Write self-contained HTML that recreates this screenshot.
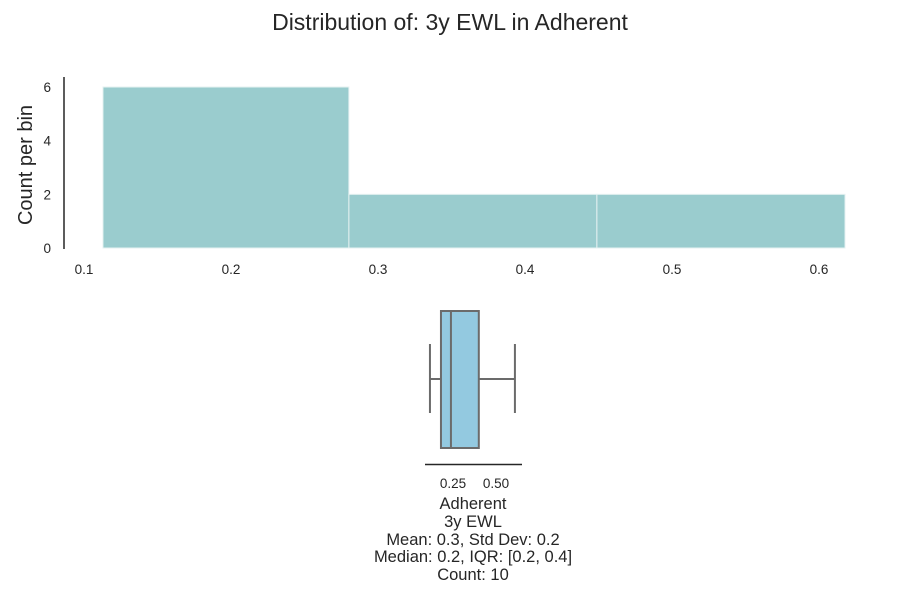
<!DOCTYPE html>
<html><head><meta charset="utf-8"><style>
body{margin:0;background:#fff;}
svg text{font-family:"Liberation Sans",sans-serif;fill:#262626;}
</style></head><body>
<svg id="c" width="900" height="600" xmlns="http://www.w3.org/2000/svg">
<text x="450" y="30" text-anchor="middle" font-size="23">Distribution of: 3y EWL in Adherent</text>
<g id="hist"></g>
<g id="box"></g>
<text x="473" y="509" text-anchor="middle" font-size="16.5">Adherent</text>
<text x="473" y="527" text-anchor="middle" font-size="16.5">3y EWL</text>
<text x="473" y="545" text-anchor="middle" font-size="16.5">Mean: 0.3, Std Dev: 0.2</text>
<text x="473" y="562" text-anchor="middle" font-size="16.5">Median: 0.2, IQR: [0.2, 0.4]</text>
<text x="473" y="580" text-anchor="middle" font-size="16.5">Count: 10</text>
</svg>
<script>
const binEdges=[0.1129,0.2802,0.4489,0.6177];
const binCounts=[6,2,2];
const xTicks=[0.1,0.2,0.3,0.4,0.5,0.6];
const yTicks=[0,2,4,6];
const boxStats=[0.116,0.18,0.238,0.40,0.61]; // whiskerLo,q1,median,q3,whiskerHi
const boxTicks=[0.25,0.50];
const NS="http://www.w3.org/2000/svg";
function mk(t,a,p){const e=document.createElementNS(NS,t);for(const k in a)e.setAttribute(k,a[k]);p.appendChild(e);return e;}
const hx=v=>84+(v-0.1)*1470, hy=v=>248-v*26.83;
const H=document.getElementById('hist');
binCounts.forEach((c,i)=>{const r=mk('rect',{x:hx(binEdges[i]),y:hy(c),width:hx(binEdges[i+1])-hx(binEdges[i]),height:hy(0)-hy(c),fill:'#9accce',stroke:'#e6f2f2','stroke-width':1},H);

});
xTicks.forEach(t=>{const e=mk('text',{x:hx(t),y:274,'text-anchor':'middle','font-size':13.5},H);e.textContent=String(t);

});
yTicks.forEach(t=>{const e=mk('text',{x:51,y:hy(t)+5,'text-anchor':'end','font-size':13.5},H);e.textContent=String(t);

});
const ya=mk('line',{x1:64,x2:64,y1:77,y2:249,stroke:'#262626','stroke-width':1.5},H);


const yl=mk('text',{x:0,y:0,'text-anchor':'middle','font-size':20,transform:'translate(32,165) rotate(-90)'},H);yl.textContent='Count per bin';


const bx=v=>410+v*172;
const B=document.getElementById('box');
const st={stroke:'#6b6b6b','stroke-width':2,fill:'none'};
const [wl,q1,md,q3,wh]=boxStats;
const cy=379;
[[bx(wl),cy,bx(q1),cy],[bx(q3),cy,bx(wh),cy],[bx(wl),344,bx(wl),413],[bx(wh),344,bx(wh),413]].forEach(a=>{const l=mk('line',Object.assign({x1:a[0],y1:a[1],x2:a[2],y2:a[3]},st),B);

});
const br=mk('rect',{x:bx(q1),y:311,width:bx(q3)-bx(q1),height:137,fill:'#93c9e0',stroke:'#6b6b6b','stroke-width':2},B);


const ml=mk('line',Object.assign({x1:bx(md),x2:bx(md),y1:311,y2:448},st),B);


const ax=mk('line',{x1:425,x2:522,y1:464.5,y2:464.5,stroke:'#262626','stroke-width':1.5},B);


boxTicks.forEach(t=>{const e=mk('text',{x:bx(t),y:488,'text-anchor':'middle','font-size':13.5},B);e.textContent=t.toFixed(2);

});
</script>
</body></html>
